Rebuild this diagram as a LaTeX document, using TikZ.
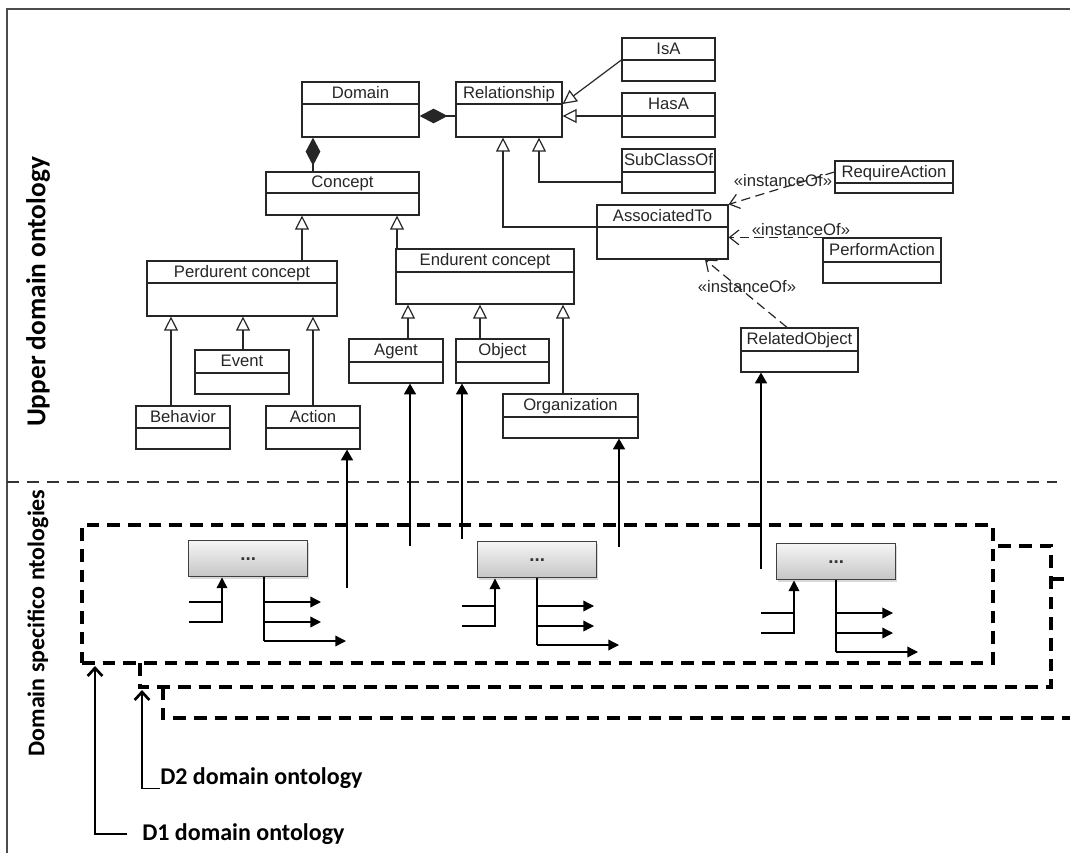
\documentclass[tikz,border=0pt]{standalone}
\usepackage{fontspec}
\setmainfont{Liberation Sans}
\newfontfamily\lblfont{Carlito}
\usetikzlibrary{arrows.meta, fit, shadows}

\tikzset{
  cls/.style={draw=black!85, line width=0.9pt, inner sep=0pt},
  clsname/.style={font=\fontsize{12.5}{14}\selectfont, text=black!85, inner sep=0pt},
  gen/.style={line width=0.9pt, black!85, -{Triangle[open, length=10.5pt, width=10.5pt]}},
  comp/.style={line width=0.9pt, black!85, -{Diamond[length=21pt, width=11pt]}},
  dep/.style={line width=0.9pt, black!85, dash pattern=on 7pt off 4pt, -{Straight Barb[length=7pt, width=11pt]}},
  stereo/.style={font=\fontsize{12.5}{14}\selectfont, text=black!85, inner sep=0pt},
  impl/.style={line width=1pt, -{Triangle[length=8pt, width=9pt]}},
  flowline/.style={line width=1pt},
  flowarr/.style={line width=1pt, -{Triangle[length=8pt, width=8pt]}},
  grbox/.style={draw=black!75, line width=1.1pt, top color=gray!8, bottom color=gray!45,
    minimum width=89.25pt, minimum height=27pt, inner sep=0pt,
    font=\fontsize{14}{14}\selectfont\bfseries, text=black!80,
    drop shadow={opacity=0.3, shadow xshift=1pt, shadow yshift=-1.5pt}},
  dbox/.style={line width=2.3pt, dash pattern=on 9.5pt off 6pt},
  sepline/.style={line width=0.9pt, black!80, dash pattern=on 9pt off 6pt},
  frameline/.style={line width=1.4pt, black!70},
  lbl/.style={font=\lblfont\bfseries\fontsize{18}{20}\selectfont},
  lblarrow/.style={line width=0.9pt, -{Straight Barb[length=6pt, width=11pt, line width=2pt]}},
}

% class box: name, x1, y1, x2, y of separator, y2, text
\newcommand{\umlclass}[7]{%
  \node[cls, fit={(#2,#3) (#4,#6)}] (#1) {};
  \draw[line width=0.9pt, black!85] (#2,#5) -- (#4,#5);
  \node[clsname, anchor=base] (#1-name) at ({(#2+#4)/2},{(#3+#5)/2+5}) {#7};
}

\begin{document}
\begin{tikzpicture}[x=0.75pt, y=-0.75pt]
\useasboundingbox (0,0) rectangle (1070,853);
\draw[frameline] (1070,9) -- (7,9) -- (7,853);
\draw[sepline] (7,482) -- (1057,482);

\node[lbl, font=\lblfont\bfseries\fontsize{20.5}{22}\selectfont, rotate=90] (upperlbl) at (38,292) {Upper domain ontology};
\node[lbl, rotate=90] (lowerlbl) at (38,623) {Domain specifico ntologies};

% upper ontology
\umlclass{domain}{302}{82}{419}{104}{137}{Domain}
\umlclass{relationship}{456}{82}{562}{104}{137}{Relationship}
\umlclass{isa}{622}{38}{715}{60}{81}{IsA}
\umlclass{hasa}{622}{93}{715}{116}{137}{HasA}
\umlclass{subclassof}{622}{149}{715}{172}{193}{SubClassOf}
\umlclass{concept}{266}{172}{419}{193}{215}{Concept}
\umlclass{assocto}{597}{205}{728}{227}{259}{AssociatedTo}
\umlclass{requireaction}{835}{161}{953}{183}{193}{RequireAction}
\umlclass{performaction}{823}{238}{941}{262}{283}{PerformAction}
\umlclass{relatedobject}{741}{328}{858}{351}{372}{RelatedObject}
\umlclass{perdurent}{147}{261}{337}{283}{316}{Perdurent concept}
\umlclass{endurent}{396}{249}{574}{272}{304}{Endurent concept}
\umlclass{event}{195}{350}{289}{373}{394}{Event}
\umlclass{behavior}{136}{406}{230}{428}{449}{Behavior}
\umlclass{action}{266}{406}{360}{428}{449}{Action}
\umlclass{agent}{349}{339}{443}{362}{383}{Agent}
\umlclass{object}{456}{339}{549}{362}{383}{Object}
\umlclass{organization}{503}{394}{638}{417}{438}{Organization}

\draw[comp] (relationship.west |- 0,116) -- (domain.east |- 0,116);
\draw[comp] (313,0 |- concept.north) -- (313,0 |- domain.south);

\draw[gen] (isa.west |- 0,60) -- (relationship.east |- 0,104);
\draw[gen] (hasa.west |- 0,116) -- (relationship.east |- 0,116);
\draw[gen] (subclassof.west |- 0,182) -| (539,0 |- relationship.south);
\draw[gen] (assocto.west |- 0,227) -| (503,0 |- relationship.south);
\draw[gen] (302,0 |- perdurent.north) -- (302,0 |- concept.south);
\draw[gen] (397,0 |- endurent.north) -- (397,0 |- concept.south);
\foreach \cls/\xx in {behavior/171, event/243, action/313}
  \draw[gen] (\xx,0 |- \cls.north) -- (\xx,0 |- perdurent.south);
\foreach \cls/\xx in {agent/408, object/480, organization/563}
  \draw[gen] (\xx,0 |- \cls.north) -- (\xx,0 |- endurent.south);

\draw[dep] (requireaction.west |- 0,172) -- (assocto.north east);
\draw[dep] (performaction.north west) -- (assocto.east |- performaction.north);
\draw[dep] (787,0 |- relatedobject.north) -- (705,0 |- assocto.south);
\node[stereo] (st1) at (783,181) {«instanceOf»};
\node[stereo] (st2) at (801,230) {«instanceOf»};
\node[stereo] (st3) at (747,287) {«instanceOf»};

% domain specific ontologies
\node[dbox, draw, inner sep=0pt, fit={(82,525) (993,663)}] (d1) {};
\draw[dbox] (140,663) -- (140,687) -- (1051,687) -- (1051,546) -- (993,546);
\draw[dbox] (163,687) -- (163,718) -- (1070,718);
\draw[dbox] (1051,579) -- (1070,579);

\foreach \g/\gx/\gy/\lx/\ix/\ox/\ry in {g1/188/540/189/222/264/602, g2/477/541/462/495/537/606, g3/776/543/761/794/836/613} {
  \node[grbox, anchor=north west] (\g) at (\gx,\gy) {...};
  \coordinate (\g-i1) at (\lx,\ry);
  \coordinate (\g-i2) at (\lx,{\ry+20});
  \coordinate (\g-o1) at ({\ox+57},\ry);
  \coordinate (\g-o2) at ({\ox+57},{\ry+20});
  \coordinate (\g-o3) at ({\ox+82},{\ry+39});
  \draw[flowline] (\g-i1) -- (\ix,0 |- \g-i1);
  \draw[flowarr] (\g-i2) -| (\ix,0 |- \g.south);
  \draw[flowline] (\ox,0 |- \g.south) -- (\ox,0 |- \g-o3);
  \draw[flowarr] (\ox,0 |- \g-o1) -- (\g-o1);
  \draw[flowarr] (\ox,0 |- \g-o2) -- (\g-o2);
  \draw[flowarr] (\ox,0 |- \g-o3) -- (\g-o3);
}

\foreach \cls/\xx/\yy in {action/347/588, agent/410/546, object/462/539, organization/619/547, relatedobject/761/569} {
  \coordinate (\cls-src) at (\xx,\yy);
  \draw[impl] (\cls-src) -- (\cls-src |- \cls.south);
}

\node[lbl, anchor=west, inner sep=0pt] (d1lbl) at (142,834) {D1 domain ontology};
\node[lbl, anchor=base west, inner sep=0pt] (d2lbl) at (160,784) {D2 domain ontology};
\coordinate (d1tip) at (95,666);
\coordinate (d2tip) at (142,690);
\draw[lblarrow, shorten <=11pt] (d1lbl.west) -| (d1tip);
\draw[lblarrow] (d2lbl.south west) -| (d2tip);
\end{tikzpicture}
\end{document}
